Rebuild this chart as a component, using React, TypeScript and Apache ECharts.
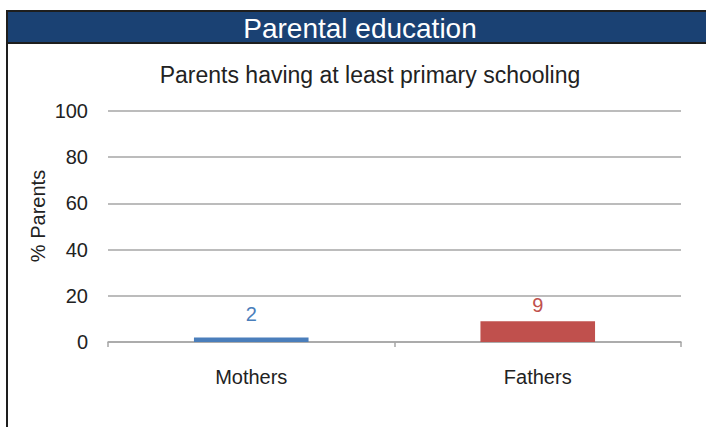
import React, { useEffect, useRef } from "react";
import * as echarts from "echarts";

const categories = ["Mothers", "Fathers"];
const values = [2, 9];
const barColors = ["#4a7ebb", "#c0504d"];
const headerTitle = "Parental education";
const chartTitle = "Parents having at least primary schooling";
const yAxisName = "% Parents";

export default function App() {
  const ref = useRef<HTMLDivElement>(null);
  useEffect(() => {
    if (!ref.current) return;
    const chart = echarts.init(ref.current, null, { renderer: "svg" });
    const font = "'Liberation Sans', Arial, sans-serif";
    chart.setOption({
      animation: false,
      backgroundColor: "#ffffff",
      textStyle: { fontFamily: font },
      graphic: [
        {
          type: "rect",
          shape: { x: 7, y: 11, width: 720, height: 32 },
          style: { fill: "#1a4173", stroke: "#1e1e1e", lineWidth: 2 },
          z: 10,
        },
        {
          type: "line",
          shape: { x1: 7, y1: 11, x2: 7, y2: 440 },
          style: { stroke: "#1e1e1e", lineWidth: 2 },
          z: 11,
        },
        {
          type: "text",
          x: 360,
          y: 28,
          style: {
            text: headerTitle,
            fill: "#ffffff",
            fontSize: 28,
            fontFamily: font,
            align: "center",
            verticalAlign: "middle",
          },
          z: 12,
        },
        {
          type: "text",
          x: 370,
          y: 75,
          style: {
            text: chartTitle,
            fill: "#222222",
            fontSize: 23,
            fontFamily: font,
            align: "center",
            verticalAlign: "middle",
          },
          z: 12,
        },
        {
          type: "text",
          x: 38,
          y: 216,
          rotation: Math.PI / 2,
          style: {
            text: yAxisName,
            fill: "#222222",
            fontSize: 20,
            fontFamily: font,
            align: "center",
            verticalAlign: "middle",
          },
          z: 12,
        },
      ],
      grid: { left: 108, right: 25, top: 111, bottom: 85, containLabel: false },
      xAxis: {
        type: "category",
        data: categories,
        axisLine: { show: true, lineStyle: { color: "#a6a6a6", width: 1.5 } },
        axisTick: { show: true, length: 5, lineStyle: { color: "#a6a6a6", width: 1.5 } },
        axisLabel: { color: "#222222", fontSize: 20, margin: 25, fontFamily: font },
      },
      yAxis: {
        type: "value",
        min: 0,
        max: 100,
        interval: 20,
        axisLine: { show: false },
        axisTick: { show: false },
        axisLabel: { color: "#222222", fontSize: 20, margin: 20, fontFamily: font },
        splitLine: { lineStyle: { color: "#a6a6a6", width: 1.5 } },
      },
      series: [
        {
          type: "bar",
          barWidth: "40%",
          data: values.map((v, i) => ({
            value: v,
            itemStyle: { color: barColors[i] },
            label: {
              show: true,
              position: "top",
              distance: i === 0 ? 13 : 6,
              color: barColors[i],
              fontSize: 20,
              fontFamily: font,
            },
          })),
        },
      ],
    });
    return () => chart.dispose();
  }, []);
  return (
    <div
      ref={ref}
      style={{ position: "absolute", left: 0, top: 0, width: 706, height: 427 }}
    />
  );
}
